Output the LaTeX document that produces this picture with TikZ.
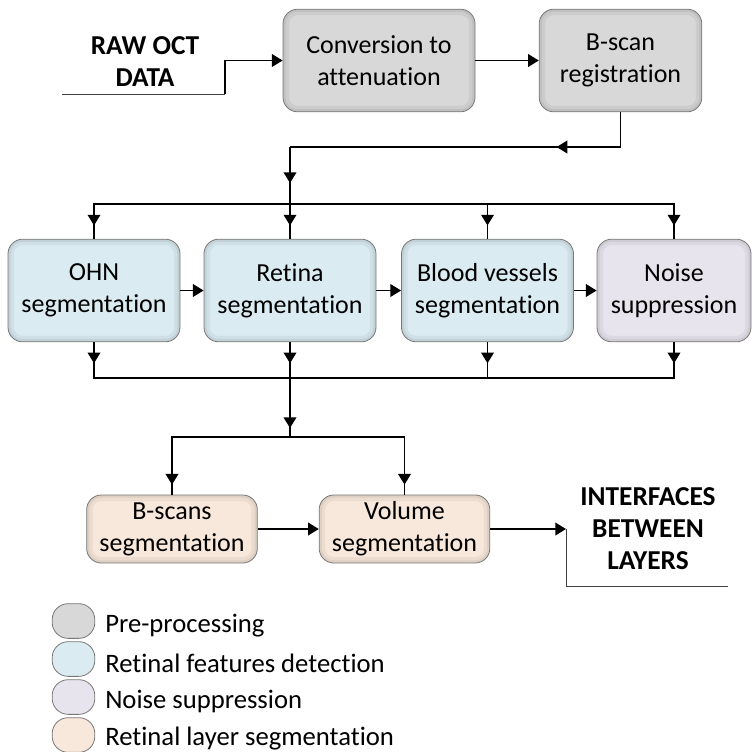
\documentclass[tikz,border=0pt]{standalone}
\usepackage{fontspec}
\setmainfont{Carlito}[Ligatures=NoCommon]
\usetikzlibrary{arrows.meta,positioning,calc,decorations.markings}

\definecolor{preFill}{RGB}{216,216,216}
\definecolor{featFill}{RGB}{218,236,242}
\definecolor{noiseFill}{RGB}{232,228,238}
\definecolor{layerFill}{RGB}{248,232,219}
\definecolor{edgeGray}{RGB}{120,120,120}

\begin{document}
\begin{tikzpicture}[x=0.75pt, y=-0.75pt,
  every node/.style={font=\fontsize{19.5}{24}\selectfont},
  blk/.style={draw=edgeGray, line width=0.6pt, rounded corners=11pt, align=center, inner sep=2pt,
    minimum width=129pt, minimum height=77pt,
    path picture={
      \draw[line width=9pt, black, opacity=0.05, rounded corners=11pt]
        (path picture bounding box.south west) rectangle (path picture bounding box.north east);
      \draw[line width=4pt, black, opacity=0.06, rounded corners=11pt]
        (path picture bounding box.south west) rectangle (path picture bounding box.north east);}},
  small/.style={blk, minimum width=128pt, minimum height=51pt},
  key/.style={draw=edgeGray, line width=0.6pt, rounded corners=12pt, minimum width=32pt, minimum height=26pt, inner sep=0pt},
  heading/.style={font=\bfseries\fontsize{20.5}{24}\selectfont, align=center},
  arr/.style={-{Triangle[length=8pt,width=9.5pt]}, line width=1.2pt},
  tipat/.style={line width=1.2pt, decoration={markings, mark=at position #1 with {\arrow{Triangle[length=8pt,width=9.5pt]}}}, postaction={decorate}},
  thinln/.style={line width=0.6pt, black!75}
]
\useasboundingbox (0,0) rectangle (752,751);

% pre-processing
\node[blk, fill=preFill, minimum width=144pt] (conv) at (379,60.5) {Conversion to\\attenuation};
\node[blk, fill=preFill, minimum width=122pt] (breg) at (620.5,60.5) {B-scan\\registration};
\node[heading] (raw) at (145,62) {RAW OCT\\DATA};

% retinal features
\node[blk, fill=featFill] (ohn) at (94,290.5) {OHN\\segmentation};
\node[blk, fill=featFill] (retina) at (290,290.5) {Retina\\segmentation};
\node[blk, fill=featFill] (blood) at (487.5,290.5) {Blood vessels\\segmentation};
\node[blk, fill=noiseFill, minimum width=115.5pt] (noise) at (674,290.5) {Noise\\suppression};

% layer segmentation
\node[small, fill=layerFill] (bseg) at (172,529) {B-scans\\segmentation};
\node[small, fill=layerFill] (vseg) at (404.5,529) {Volume\\segmentation};
\node[heading] (ifc) at (648,529) {INTERFACES\\BETWEEN\\LAYERS};

\coordinate (inpt) at (62,94);
\coordinate (inbend) at (225,94);
\coordinate (jtop) at (290,147);
\coordinate (jbus) at (290,204);
\coordinate (jlow) at (290,378);
\coordinate (jsplit) at (290,437);
\coordinate (outpt) at (566,529);
\coordinate (outend) at (728,586);

% input and pre-processing
\draw[thinln] (inpt) -- (inbend);
\draw[arr] (inbend) |- (conv.west);
\draw[arr] (conv) -- (breg);
\draw[tipat=74pt] (breg.south) |- (jtop);
\draw[tipat=27pt] (jtop) -- (jbus);

% distribution to features
\draw[tipat=-10pt] (jbus) -| (ohn.north);
\draw[tipat=-10pt] (jbus) -- (retina.north);
\draw[tipat=-10pt] (jbus) -| (blood.north);
\draw[tipat=-10pt] (jbus) -| (noise.north);
\draw[arr] (ohn) -- (retina);
\draw[arr] (retina) -- (blood);
\draw[arr] (blood) -- (noise);

% collection
\draw[tipat=15.75pt] (ohn.south) |- (jlow);
\draw[tipat=15.75pt] (retina.south) -- (jlow);
\draw[tipat=15.75pt] (blood.south) |- (jlow);
\draw[tipat=15.75pt] (noise.south) |- (jlow);
\draw[tipat=-6.75pt] (jlow) -- (jsplit);
\draw[tipat=-7.5pt] (jsplit) -| (bseg.north);
\draw[tipat=-7.5pt] (jsplit) -| (vseg.north);
\draw[arr] (bseg) -- (vseg);
\draw[arr] (vseg.east) -- (outpt);
\draw[thinln] (outpt) |- (outend);

% legend
\foreach \c/\t [count=\k] in {preFill/Pre-processing, featFill/Retinal features detection,
    noiseFill/Noise suppression, layerFill/Retinal layer segmentation}{
  \node[key, fill=\c] (key\k) at (73.5,{621+38*(\k-1)}) {};
  \node[anchor=west, inner sep=0pt, font=\fontsize{20}{24}\selectfont] (keytxt\k) at (105,{626+37.5*(\k-1)}) {\t};
}
\end{tikzpicture}
\end{document}
